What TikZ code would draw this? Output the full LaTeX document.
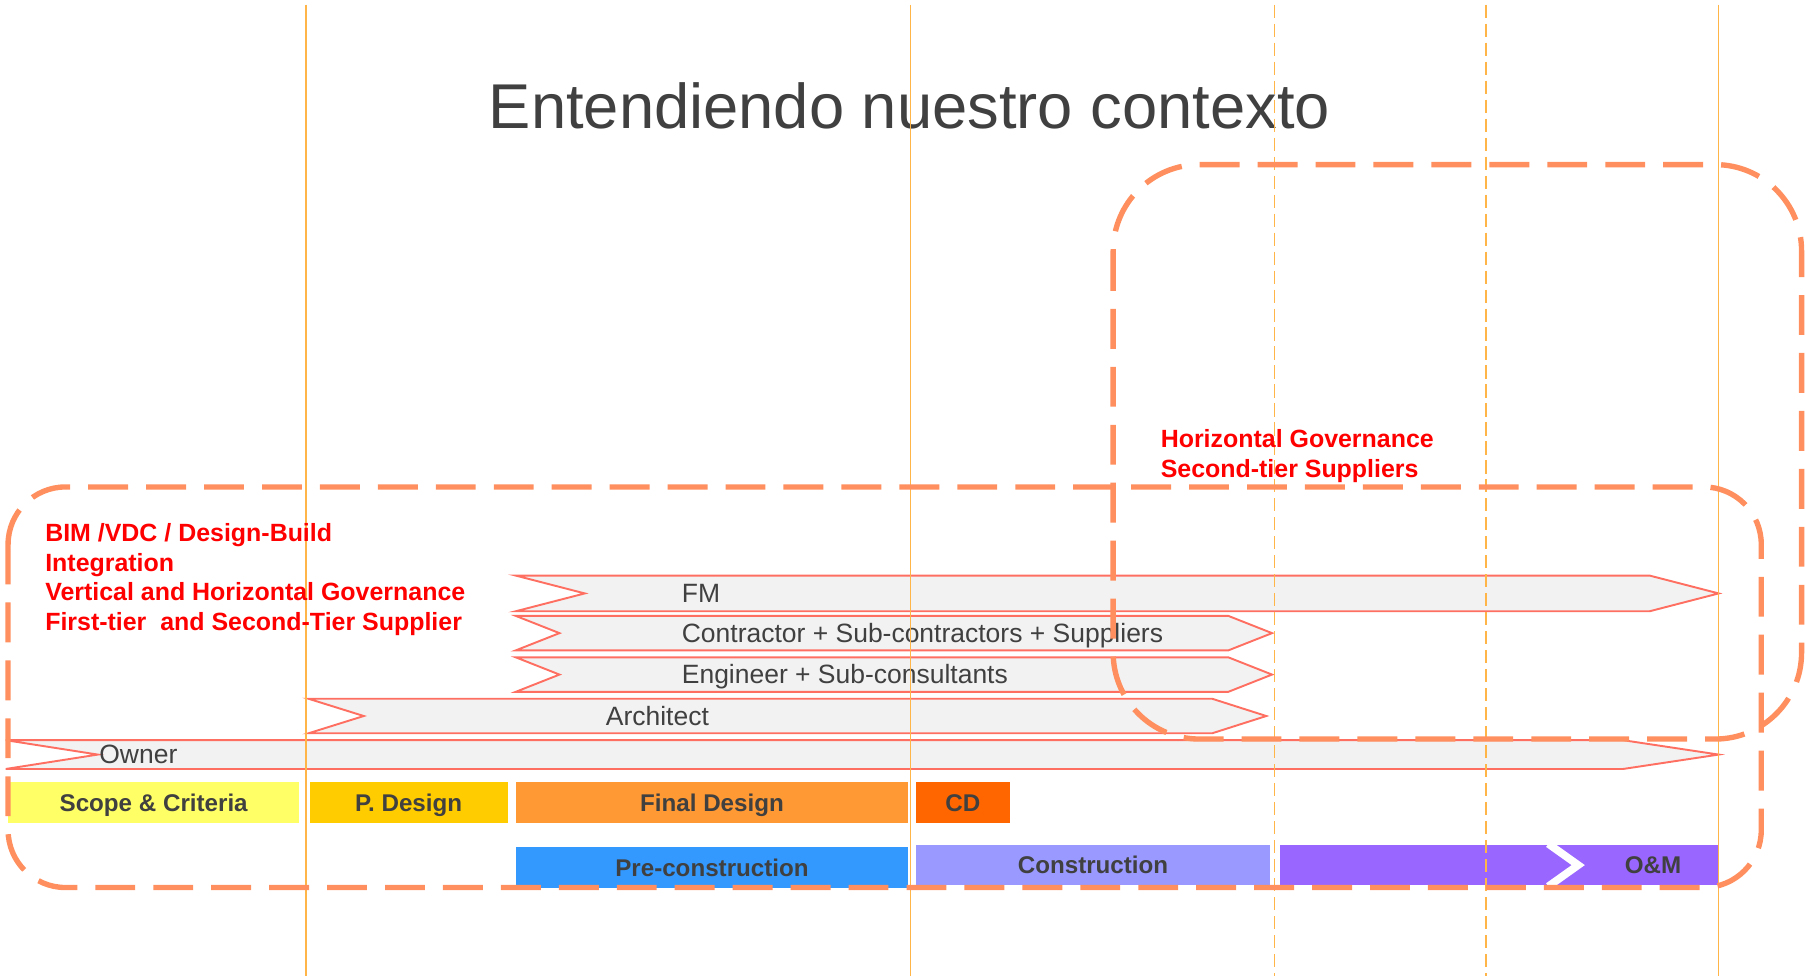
\documentclass[tikz,border=0pt]{standalone}
\usepackage{fontspec}
\setmainfont{Liberation Sans}
\usetikzlibrary{positioning}
\definecolor{govline}{HTML}{FF8F5E}
\definecolor{bandedge}{HTML}{FF6F61}
\definecolor{bandfill}{HTML}{F2F2F2}
\definecolor{gridline}{HTML}{FFB547}
\definecolor{inkgrey}{HTML}{404040}
\definecolor{scopeyel}{HTML}{FFFF66}
\definecolor{pdesign}{HTML}{FFCC00}
\definecolor{fdesign}{HTML}{FF9933}
\definecolor{cdorange}{HTML}{FF6600}
\definecolor{preblue}{HTML}{3399FF}
\definecolor{conslilac}{HTML}{9999FF}
\definecolor{ompurple}{HTML}{9966FF}

\begin{document}
\begin{tikzpicture}[x=0.6pt,y=-0.6pt,
  band/.style={draw=bandedge,fill=bandfill,line width=1pt,line join=miter},
  actor/.style={anchor=base west,inner sep=0pt,text=inkgrey,font=\fontsize{13.8}{16}\selectfont},
  phase/.style={anchor=base,inner sep=0pt,text=inkgrey,font=\fontsize{12.6}{15}\selectfont\bfseries},
  govbox/.style={draw=govline,line width=2.8pt,dash pattern=on 20.8pt off 9.4pt},
  govtext/.style={anchor=north west,align=left,inner sep=0pt,text=red,
                  font=\fontsize{13}{15.6}\selectfont\bfseries},
  gridsolid/.style={draw=gridline,line width=0.8pt},
  griddash/.style={gridsolid,dash pattern=on 6.8pt off 3.1pt}]
\useasboundingbox (0,0) rectangle (1568,848);

% title
\node[anchor=base,inner sep=0pt,text=inkgrey,font=\fontsize{33}{40}\selectfont]
     (title) at (790,112) {Entendiendo nuestro contexto};

% actor bands
\draw[band] (448,500) -- (1433,500) -- (1493,515.5) -- (1433,531) -- (448,531) -- (508,515.5) -- cycle;
\draw[band] (448,535) -- (1067,535) -- (1105,550) -- (1067,565) -- (448,565) -- (486,550) -- cycle;
\draw[band] (448,571) -- (1067,571) -- (1105,586) -- (1067,601) -- (448,601) -- (486,586) -- cycle;
\draw[band] (268,607) -- (1053,607) -- (1100,622) -- (1053,637) -- (268,637) -- (316,622) -- cycle;
\draw[band] (5,643) -- (1410,643) -- (1493,655.5) -- (1410,668) -- (5,668) -- (85,655.5) -- cycle;
\node[actor] (fm) at (592,523) {FM};
\node[actor] (contractor) at (592,558) {Contractor + Sub-contractors + Suppliers};
\node[actor] (engineer) at (592,594) {Engineer + Sub-consultants};
\node[actor] (architect) at (526,630) {Architect};
\node[actor] (owner) at (86,663) {Owner};

% phases
\fill[scopeyel] (7,679) rectangle (260,715);
\fill[pdesign] (269,679) rectangle (441,715);
\fill[fdesign] (448,679) rectangle (789,715);
\fill[cdorange] (796,679) rectangle (877,715);
\fill[preblue] (448,736) rectangle (789,771);
\fill[conslilac] (796,734) rectangle (1103,769);
\fill[ompurple] (1112,734) rectangle (1493,769);
\draw[white,line width=4pt,line join=miter] (1345,733) -- (1371,751.5) -- (1345,770);
\node[phase] (scope) at (133.5,705) {Scope \& Criteria};
\node[phase] (pdes) at (355,705) {P. Design};
\node[phase] (fdes) at (618.5,705) {Final Design};
\node[phase] (cd) at (836.5,705) {CD};
\node[phase] (precons) at (618.5,761) {Pre-construction};
\node[phase] (cons) at (949.5,759) {Construction};
\node[phase] (om) at (1436,759) {O\&M};

% time grid
\foreach \gx in {266,791,1493} \draw[gridsolid] (\gx,4) -- (\gx,848);
\foreach \gx in {1107,1291} \draw[griddash] (\gx,4) -- (\gx,848);

% governance boxes
\draw[govbox,rounded corners=30pt] (7,423) rectangle (1530,771);
\draw[govbox,rounded corners=45pt] (967,143) rectangle (1565,642);
\node[govtext] (integration) at (39,454)
     {BIM /VDC / Design-Build\\Integration\\Vertical and Horizontal Governance\\First-tier~ and Second-Tier Supplier};
\node[govtext] (horizontal) at (1008,373) {Horizontal Governance\\Second-tier Suppliers};
\end{tikzpicture}
\end{document}
